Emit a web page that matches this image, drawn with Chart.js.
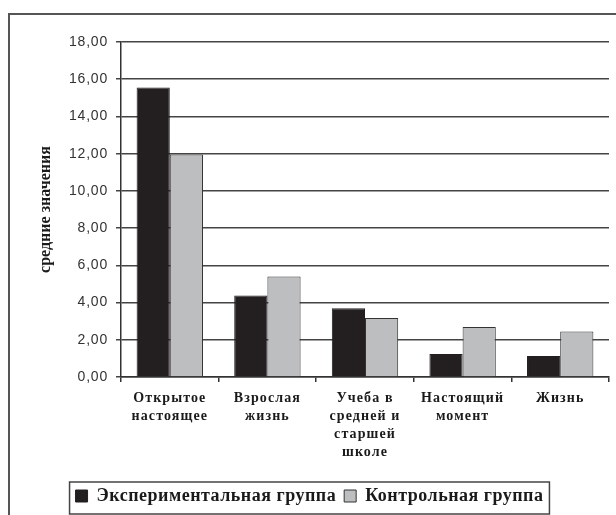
<!DOCTYPE html>
<html>
<head>
<meta charset="utf-8">
<script src="https://cdn.jsdelivr.net/npm/chart.js@4"></script>
<style>
  html, body { margin: 0; padding: 0; background: #fff; }
  #wrap { width: 616px; height: 515px; }
</style>
</head>
<body>
<div id="wrap"><canvas id="chart" width="616" height="515"></canvas></div>
<script>
const categories = [
    ['Открытое', 'настоящее'],
    ['Взрослая', 'жизнь'],
    ['Учеба в', 'средней и', 'старшей', 'школе'],
    ['Настоящий', 'момент'],
    ['Жизнь']
];
const experimental = [15.55, 4.38, 3.70, 1.24, 1.13];
const control = [11.95, 5.40, 3.17, 2.68, 2.45];
const seriesNames = ['Экспериментальная группа', 'Контрольная группа'];
const yTicks = [0, 2, 4, 6, 8, 10, 12, 14, 16, 18];
const yTitle = 'средние значения';

const serif = "'Liberation Serif', 'DejaVu Serif', serif";
const sans = "'Liberation Sans', Arial, sans-serif";

// outer frame and box round the legend, like the old Excel chart
const framePlugin = {
    id: 'frame',
    beforeDraw(chart) {
        const ctx = chart.ctx;
        ctx.save();
        ctx.fillStyle = '#fff';
        ctx.fillRect(0, 0, chart.width, chart.height);
        ctx.strokeStyle = '#555';
        ctx.lineWidth = 2;
        ctx.strokeRect(9, 14, chart.width + 20, chart.height + 20);
        ctx.restore();
    },
    afterDraw(chart) {
        const boxes = chart.legend.legendHitBoxes;
        if (!boxes || !boxes.length) return;
        const left = Math.min(...boxes.map(b => b.left)) - 6;
        const right = Math.max(...boxes.map(b => b.left + b.width)) + 6;
        const top = Math.min(...boxes.map(b => b.top)) - 5;
        const bottom = Math.max(...boxes.map(b => b.top + b.height)) + 9;
        const ctx = chart.ctx;
        ctx.save();
        ctx.strokeStyle = '#444';
        ctx.lineWidth = 1.5;
        ctx.strokeRect(left, top, right - left, bottom - top);
        ctx.restore();
    }
};

const chart = new Chart(document.getElementById('chart'), {
    type: 'bar',
    data: {
        labels: categories,
        datasets: [{
            label: seriesNames[0],
            data: experimental,
            backgroundColor: '#231f20',
            borderColor: '#231f20',
            borderWidth: 1
        }, {
            label: seriesNames[1],
            data: control,
            backgroundColor: '#bdbec0',
            borderColor: '#333',
            borderWidth: 1
        }]
    },
    options: {
        responsive: false,
        animation: false,
        datasets: {
            bar: { categoryPercentage: 0.68, barPercentage: 1 }
        },
        layout: { padding: { left: 10, right: 7, top: 42, bottom: 0 } },
        plugins: {
            tooltip: { enabled: false },
            legend: {
                position: 'bottom',
                labels: {
                    color: '#1a1a1a',
                    font: { family: serif, size: 18, weight: 'bold' },
                    boxWidth: 12,
                    boxHeight: 12,
                    padding: 8
                }
            }
        },
        scales: {
            x: {
                offset: true,
                grid: {
                    display: true,
                    drawOnChartArea: false,
                    offset: true,
                    color: '#333',
                    lineWidth: 1.5,
                    tickLength: 5
                },
                border: { color: '#333', width: 1.5 },
                ticks: {
                    color: '#1a1a1a',
                    maxRotation: 0,
                    autoSkip: false,
                    padding: 7,
                    font: { family: serif, size: 14, weight: 'bold', lineHeight: 1.3 }
                },
                afterFit(scale) {
                    scale.height = 515 - scale.chart.legend.height - 377;
                }
            },
            y: {
                min: 0,
                max: 18,
                afterBuildTicks(scale) {
                    scale.ticks = yTicks.map(v => ({ value: v }));
                },
                grid: {
                    color: '#444',
                    lineWidth: 1.5,
                    tickLength: 5
                },
                border: { color: '#333', width: 1.5 },
                ticks: {
                    color: '#333',
                    padding: 8,
                    font: { family: sans, size: 14 },
                    callback: v => v.toFixed(2).replace('.', ',')
                },
                title: {
                    display: true,
                    text: yTitle,
                    color: '#1a1a1a',
                    padding: { top: 26, bottom: 0 },
                    font: { family: serif, size: 16, weight: 'bold' }
                },
                afterFit(scale) {
                    scale.width = 111;
                }
            }
        }
    },
    plugins: [framePlugin]
});

// the scanned chart has widely spaced letters; canvas letterSpacing per element
function spaced(obj, name, spacing) {
    const orig = obj[name];
    obj[name] = function (...args) {
        const ctx = chart.ctx;
        const prev = ctx.letterSpacing;
        ctx.letterSpacing = spacing;
        const res = orig.apply(this, args);
        ctx.letterSpacing = prev;
        return res;
    };
}
spaced(chart.legend, 'fit', '0.5px');
spaced(chart.legend, 'draw', '0.5px');
spaced(chart.scales.x, 'drawLabels', '1.1px');
spaced(chart.scales.y, 'drawLabels', '0.8px');
chart.update();
</script>
</body>
</html>
